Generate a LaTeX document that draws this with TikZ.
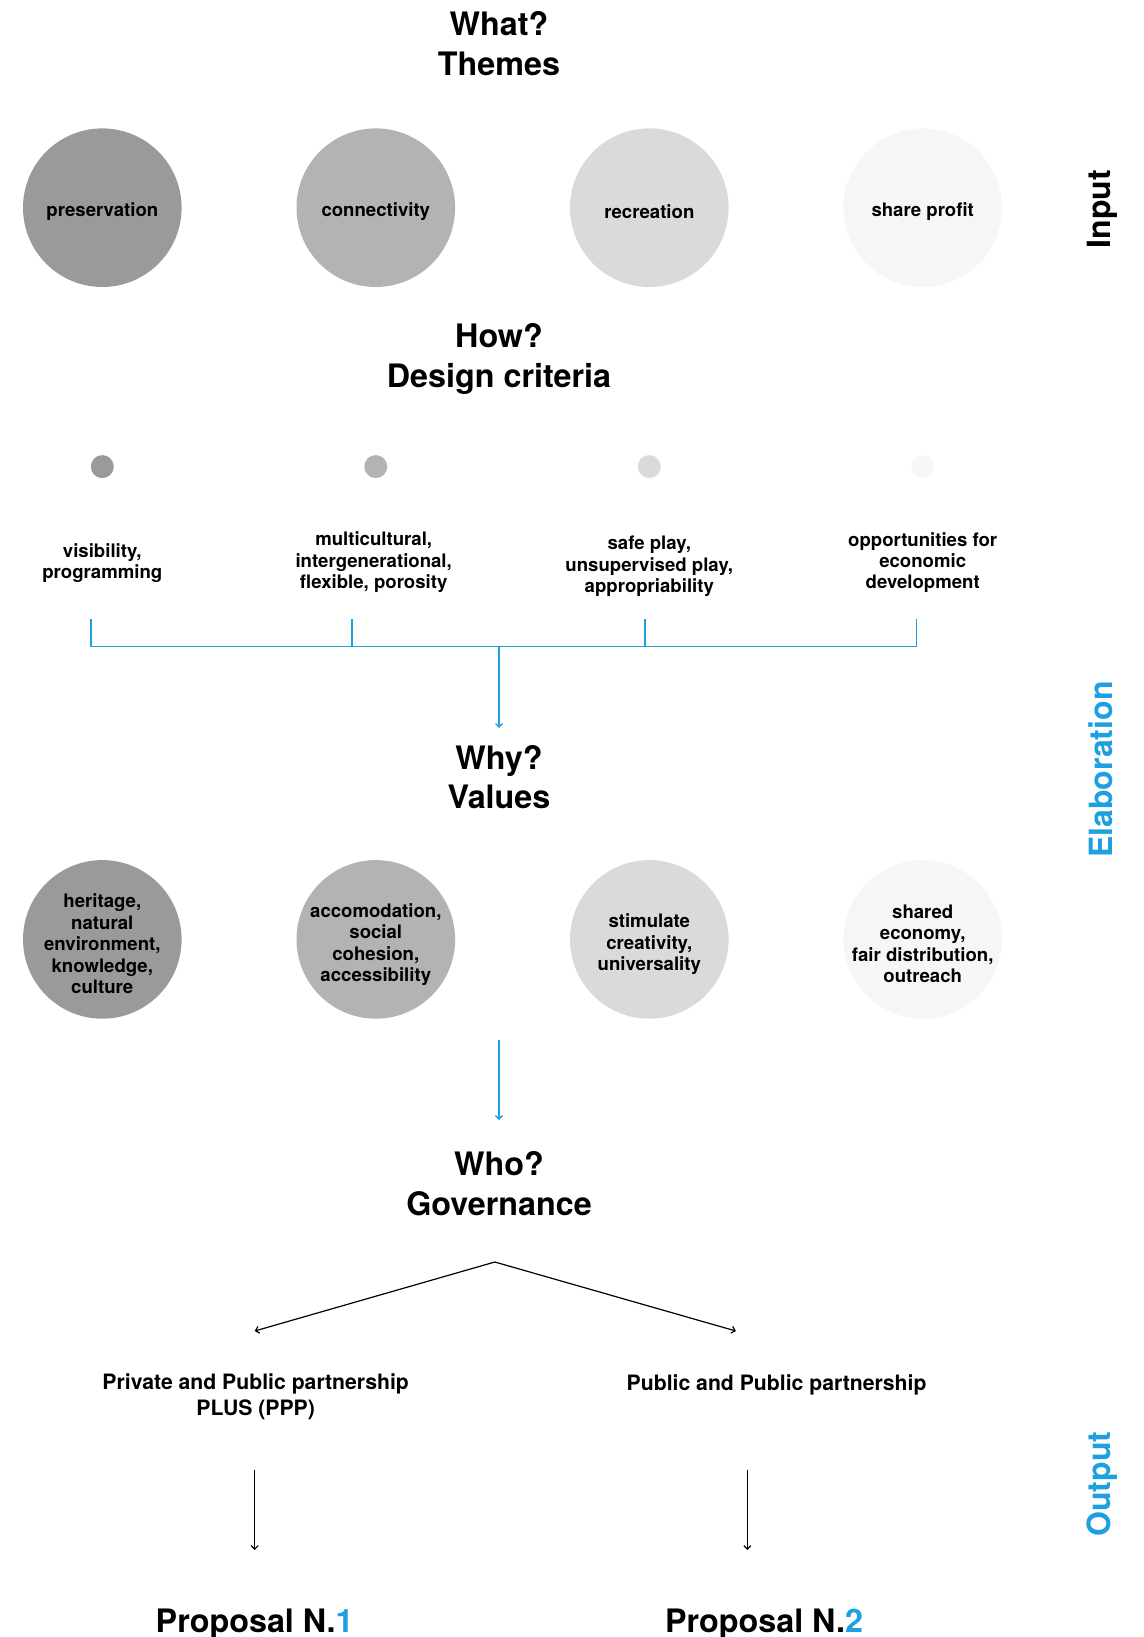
\documentclass[tikz,border=0pt]{standalone}
\usepackage{fontspec}
\setmainfont{TeX Gyre Heros}
\usetikzlibrary{arrows.meta}
\definecolor{accent}{HTML}{1E9FE0}
\definecolor{shadeA}{HTML}{9A9A9A}
\definecolor{shadeB}{HTML}{B3B3B3}
\definecolor{shadeC}{HTML}{DADADA}
\definecolor{shadeD}{HTML}{F6F6F6}
\begin{document}
\begin{tikzpicture}[x=1pt,y=-1pt,
  title/.style={align=center,inner sep=0pt,font=\bfseries\fontsize{32.3}{39.5}\selectfont},
  side/.style={rotate=90,inner sep=0pt,font=\bfseries\fontsize{32}{36}\selectfont},
  bubble/.style={circle,inner sep=0pt,minimum size=158.6pt},
  bubtext/.style={align=center,inner sep=0pt,font=\bfseries\fontsize{18.6}{21.4}\selectfont},
  dot/.style={circle,inner sep=0pt,minimum size=23pt},
  small/.style={align=center,inner sep=0pt,font=\bfseries\fontsize{18.6}{21.4}\selectfont},
  option/.style={align=center,inner sep=0pt,font=\bfseries\fontsize{21.2}{26}\selectfont},
  bluelink/.style={draw=accent,line width=1.6pt},
  bluearrow/.style={draw=accent,line width=1.4pt,-{Straight Barb[length=3.5pt,width=7pt]}},
  blackarrow/.style={draw=black,line width=1.2pt,-{Straight Barb[length=3.5pt,width=7pt]}}]
\useasboundingbox (0,0) rectangle (1143,1637);

% section headings
\node[title] (what) at (499,43.5) {What?\\Themes};
\node[title] (how) at (499,359) {How?\\Design criteria};
\node[title] (why) at (499,777) {Why?\\Values};
\node[title] (who) at (499,1183.5) {Who?\\Governance};

% side labels
\node[side] (input) at (1102,209) {Input};
\node[side,text=accent] (elab) at (1101,769.5) {Elaboration};
\node[side,text=accent] (output) at (1102,1484) {Output};

% themes
\node[bubble,fill=shadeA] (t1) at (102.3,207.7) {};
\node[bubble,fill=shadeB] (t2) at (375.8,207.7) {};
\node[bubble,fill=shadeC] (t3) at (649.3,207.7) {};
\node[bubble,fill=shadeD] (t4) at (922.7,207.7) {};
\node[bubtext] (t1l) at ([yshift=-3.5pt]t1.center) {preservation};
\node[bubtext] (t2l) at ([yshift=-3.5pt]t2.center) {connectivity};
\node[bubtext] (t3l) at ([yshift=-3.5pt]t3.center) {recreation};
\node[bubtext] (t4l) at ([yshift=-3.5pt]t4.center) {share profit};

% design criteria
\node[dot,fill=shadeA] (d1) at (102.3,466.6) {};
\node[dot,fill=shadeB] (d2) at (375.8,466.6) {};
\node[dot,fill=shadeC] (d3) at (649.3,466.6) {};
\node[dot,fill=shadeD] (d4) at (922.7,466.6) {};

\node[small] (c1) at (102.3,563) {visibility,\\programming};
\node[small] (c2) at (373.7,562.5) {multicultural,\\intergenerational,\\flexible, porosity};
\node[small] (c3) at (649.3,566.5) {safe play,\\unsupervised play,\\appropriability};
\node[small] (c4) at (922.7,562.5) {opportunities for\\economic\\development};

% bracket collecting the criteria
\coordinate (k1) at (90.8,619);
\coordinate (k2) at (351.8,619);
\coordinate (k3) at (645.1,619);
\coordinate (k4) at (916.5,619);
\coordinate (kmid) at (499,646.5);
\coordinate (whytop) at (499,728);
\draw[bluelink] (k1) -- (k1 |- kmid) -- (k4 |- kmid) -- (k4);
\draw[bluelink] (k2) -- (k2 |- kmid);
\draw[bluelink] (k3) -- (k3 |- kmid);
\draw[bluearrow] (kmid) -- (whytop);

% values
\node[bubble,fill=shadeA] (v1) at (102.3,939.4) {};
\node[bubble,fill=shadeB] (v2) at (375.8,939.4) {};
\node[bubble,fill=shadeC] (v3) at (649.3,939.4) {};
\node[bubble,fill=shadeD] (v4) at (922.7,939.4) {};
\node[bubtext] (v1l) at ([yshift=-4.5pt]v1.center) {heritage,\\natural\\environment,\\knowledge,\\culture};
\node[bubtext] (v2l) at ([yshift=-5pt]v2.center) {accomodation,\\social\\cohesion,\\accessibility};
\node[bubtext] (v3l) at ([yshift=-5pt]v3.center) {stimulate\\creativity,\\universality};
\node[bubtext] (v4l) at ([yshift=-4.5pt]v4.center) {shared\\economy,\\fair distribution,\\outreach};

\coordinate (vstart) at (499,1039.6);
\coordinate (whotop) at (499,1120);
\draw[bluearrow] (vstart) -- (whotop);

% governance split
\coordinate (apex) at (494.8,1262);
\coordinate (gl) at (254.7,1331);
\coordinate (gr) at (735.9,1331);
\draw[blackarrow] (apex) -- (gl);
\draw[blackarrow] (apex) -- (gr);

\node[option] (ppp) at (255.7,1397) {Private and Public partnership\\PLUS (PPP)};
\node[option] (pup) at (776.6,1385) {Public and Public partnership};

\coordinate (a1s) at (254.7,1469.7);
\coordinate (a1e) at (254.7,1550);
\coordinate (a2s) at (747.4,1469.7);
\coordinate (a2e) at (747.4,1550);
\draw[blackarrow] (a1s) -- (a1e);
\draw[blackarrow] (a2s) -- (a2e);

% proposals
\node[title] (p1) at (254.7,1624) {Proposal N.\textcolor{accent}{1}};
\node[title] (p2) at (764,1624) {Proposal N.\textcolor{accent}{2}};
\end{tikzpicture}
\end{document}
